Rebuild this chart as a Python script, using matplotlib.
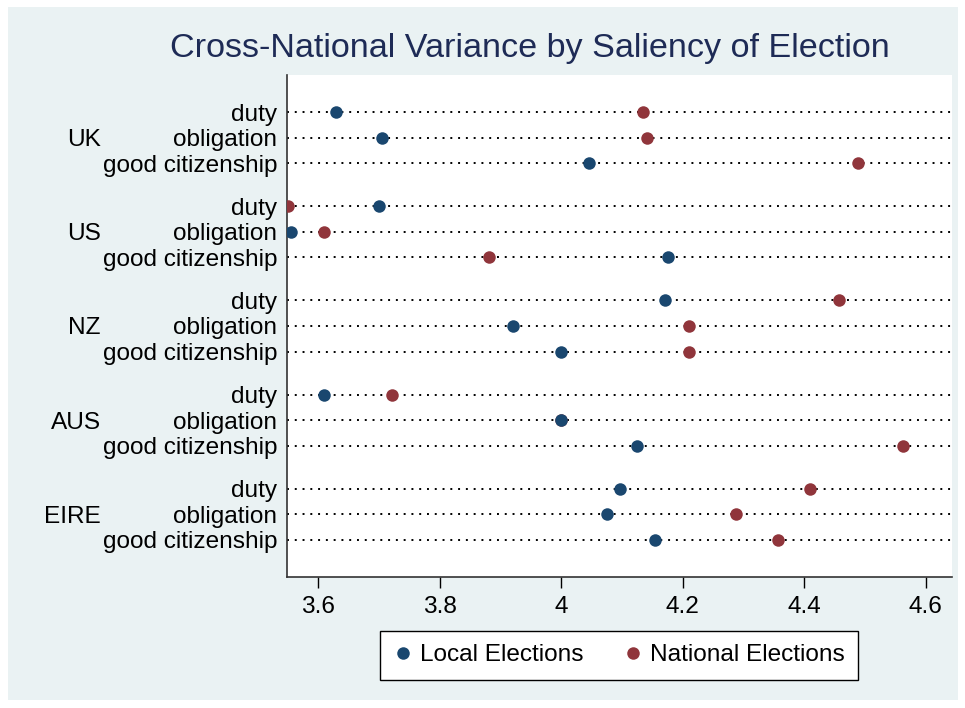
import matplotlib
matplotlib.use("Agg")
import matplotlib.pyplot as plt
from matplotlib.patches import Rectangle
from matplotlib.lines import Line2D
import matplotlib.transforms as mtransforms

plt.rcParams['font.family'] = ['Liberation Sans', 'DejaVu Sans']

countries = ["UK", "US", "NZ", "AUS", "EIRE"]
items = ["duty", "obligation", "good citizenship"]

# mean scores per country, in item order (duty, obligation, good citizenship)
local_elections = {
    "UK":   [3.629, 3.705, 4.046],
    "US":   [3.700, 3.555, 4.176],
    "NZ":   [4.171, 3.920, 4.000],
    "AUS":  [3.610, 4.000, 4.125],
    "EIRE": [4.096, 4.075, 4.155],
}
national_elections = {
    "UK":   [4.134, 4.142, 4.488],
    "US":   [3.550, 3.610, 3.882],
    "NZ":   [4.457, 4.210, 4.211],
    "AUS":  [3.722, 4.000, 4.562],
    "EIRE": [4.409, 4.288, 4.357],
}
xticks = [3.6, 3.8, 4.0, 4.2, 4.4, 4.6]
xtick_labels = ["3.6", "3.8", "4", "4.2", "4.4", "4.6"]

LOCAL_C = "#1A476F"
NATIONAL_C = "#90353B"
BG = "#EAF2F3"
FS = 17.6

W, H = 965, 708
fig = plt.figure(figsize=(W / 100, H / 100), dpi=100)
fig.patch.set_facecolor("white")
fig.patches.append(Rectangle((8 / W, 1 - 700 / H), 950 / W, 693 / H,
                             transform=fig.transFigure, facecolor=BG,
                             edgecolor="none", zorder=-10))

ax = fig.add_axes([287 / W, 1 - 577 / H, (952 - 287) / W, (577 - 75) / H])
ax.set_facecolor("white")

group_gap = 3.69
ypos, ylabels = [], []
for g, c in enumerate(countries):
    for r, it in enumerate(items):
        y = g * group_gap + r
        ypos.append(y)
        ylabels.append(it)
        ax.axhline(y, color="black", lw=1.4, linestyle=(0, (1, 3)),
                   dash_capstyle="butt", zorder=1)
        ax.plot(national_elections[c][r], y, "o", color=NATIONAL_C,
                ms=9, mec="none", zorder=3)
        ax.plot(local_elections[c][r], y, "o", color=LOCAL_C,
                ms=9, mec="none", zorder=4)

ax.set_xlim(3.549, 4.643)
ax.set_ylim(ypos[-1] + 1.45, -1.45)
ax.set_yticks(ypos)
ax.set_yticklabels(ylabels, fontsize=FS)
ax.tick_params(axis="y", length=0, pad=7)
ax.set_xticks(xticks)
ax.set_xticklabels(xtick_labels, fontsize=FS)
ax.tick_params(axis="x", length=8, width=1, direction="out", pad=6)

for s in ["top", "right"]:
    ax.spines[s].set_visible(False)
for s in ["left", "bottom"]:
    ax.spines[s].set_linewidth(1.2)
    ax.spines[s].set_color("#333333")

# country names next to the middle item of each group
trans = mtransforms.blended_transform_factory(fig.transFigure, ax.transData)
for g, c in enumerate(countries):
    ax.text(101 / W, g * group_gap + 1, c, transform=trans, ha="right",
            va="center_baseline", fontsize=FS, clip_on=False)

fig.text(530 / W, 1 - 48 / H, "Cross-National Variance by Saliency of Election",
         ha="center", va="center", fontsize=24.6, color="#1E2B56")

handles = [
    Line2D([], [], marker="o", ls="none", color=LOCAL_C, ms=9, mec="none"),
    Line2D([], [], marker="o", ls="none", color=NATIONAL_C, ms=9, mec="none"),
]
leg = fig.legend(handles, ["Local Elections", "National Elections"],
                 loc="center", bbox_to_anchor=(619 / W, 1 - 655 / H),
                 ncol=2, fontsize=FS, frameon=True, fancybox=False,
                 edgecolor="black", framealpha=1, handletextpad=0.3,
                 columnspacing=1.6, handlelength=0.8, borderpad=0.55,
                 borderaxespad=0)
leg.get_frame().set_linewidth(1.0)

fig.savefig("out.png", dpi=100, facecolor=fig.get_facecolor())
